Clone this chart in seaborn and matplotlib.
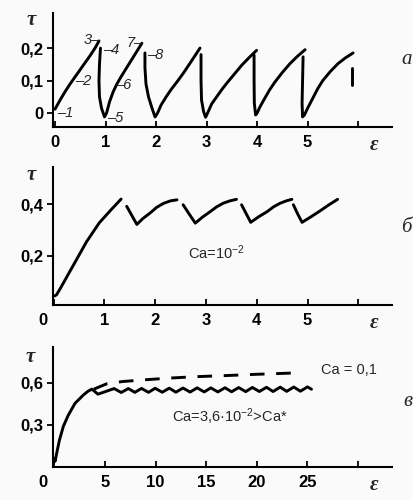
import matplotlib
matplotlib.use("Agg")
import matplotlib.pyplot as plt
import matplotlib.transforms as mtransforms
import pandas as pd
import seaborn as sns

# ---------------- data: panel a (sawtooth) ----------------
a_rise1_x = [0.0, 0.1, 0.2, 0.3, 0.4, 0.5, 0.6, 0.7, 0.8, 0.87]
a_rise1_y = [0.012, 0.04, 0.066, 0.09, 0.112, 0.134, 0.156, 0.178, 0.202, 0.222]
a_cyc2_x = [0.9, 0.88, 0.87, 0.88, 0.92, 0.98, 1.02, 1.08, 1.15, 1.22, 1.3, 1.4, 1.5, 1.6, 1.72]
a_cyc2_y = [0.2, 0.15, 0.1, 0.05, 0.015, -0.012, 0.0, 0.035, 0.065, 0.088, 0.11, 0.135, 0.16, 0.185, 0.215]
a_cyc3_x = [1.78, 1.78, 1.8, 1.85, 1.92, 1.98, 2.03, 2.1, 2.2, 2.3, 2.41, 2.55, 2.7, 2.87]
a_cyc3_y = [0.185, 0.14, 0.09, 0.05, 0.015, -0.012, 0.0, 0.025, 0.05, 0.073, 0.095, 0.125, 0.16, 0.2]
a_cyc4_x = [2.89, 2.89, 2.9, 2.94, 2.98, 3.02, 3.1, 3.2, 3.3, 3.4, 3.55, 3.7, 3.85, 3.99]
a_cyc4_y = [0.18, 0.1, 0.04, 0.005, -0.013, 0.0, 0.028, 0.05, 0.072, 0.092, 0.12, 0.148, 0.172, 0.193]
a_cyc5_x = [3.94, 3.94, 3.945, 3.97, 4.0, 4.06, 4.15, 4.25, 4.35, 4.5, 4.65, 4.8, 4.95]
a_cyc5_y = [0.178, 0.1, 0.03, -0.006, 0.0, 0.02, 0.045, 0.072, 0.095, 0.125, 0.152, 0.175, 0.195]
a_cyc6_x = [4.91, 4.9, 4.89, 4.9, 4.94, 5.0, 5.1, 5.2, 5.3, 5.45, 5.6, 5.75, 5.9]
a_cyc6_y = [0.173, 0.1, 0.03, -0.012, -0.005, 0.015, 0.045, 0.075, 0.1, 0.128, 0.152, 0.17, 0.185]
a_last_x = [5.88, 5.88]
a_last_y = [0.14, 0.086]

a_marks = ["\u20131", "\u20132", "3\u2013", "\u20134", "\u20135", "\u20136", "7\u2013", "\u20138"]
a_marks_x = [0.05, 0.39, 0.88, 0.95, 1.03, 1.19, 1.74, 1.82]
a_marks_y = [0.0, 0.1, 0.225, 0.195, -0.016, 0.086, 0.216, 0.178]
a_marks_ha = ["left", "left", "right", "left", "left", "left", "right", "left"]

a_xticks = [0, 1, 2, 3, 4, 5, 6]
a_xticklabels = ["0", "1", "2", "3", "4", "5", ""]
a_yticks = [0, 0.1, 0.2]
a_yticklabels = ["0", "0,1", "0,2"]

# ---------------- data: panel б ----------------
b_rise_x = [0.02, 0.06, 0.15, 0.25, 0.45, 0.65, 0.9, 1.13, 1.33]
b_rise_y = [0.045, 0.05, 0.08, 0.115, 0.185, 0.255, 0.328, 0.378, 0.42]
b_s1_x = [1.44, 1.54, 1.64, 1.76, 1.9, 2.03, 2.16, 2.3, 2.43]
b_s1_y = [0.392, 0.357, 0.322, 0.345, 0.366, 0.388, 0.403, 0.413, 0.417]
b_s2_x = [2.55, 2.67, 2.79, 2.93, 3.08, 3.21, 3.34, 3.47, 3.6]
b_s2_y = [0.398, 0.362, 0.327, 0.35, 0.371, 0.39, 0.404, 0.413, 0.419]
b_s3_x = [3.7, 3.79, 3.88, 4.04, 4.2, 4.33, 4.46, 4.58, 4.69]
b_s3_y = [0.398, 0.364, 0.33, 0.352, 0.371, 0.39, 0.404, 0.413, 0.419]
b_s4_x = [4.72, 4.8, 4.89, 5.07, 5.25, 5.42, 5.59]
b_s4_y = [0.398, 0.364, 0.33, 0.352, 0.375, 0.398, 0.419]

b_xticks = [0, 1, 2, 3, 4, 5, 6]
b_xticklabels = ["0", "1", "2", "3", "4", "5", ""]
b_yticks = [0.2, 0.4]
b_yticklabels = ["0,2", "0,4"]

# ---------------- data: panel в ----------------
c_solid_x = [0.0, 0.06, 0.23, 0.49, 0.88, 1.37, 2.04, 2.86, 3.3, 3.7,
             4.3, 5.9, 6.6, 7.3, 7.95, 8.6, 9.3, 9.95, 10.65, 11.35, 12.0,
             12.7, 13.4, 14.1, 14.8, 15.45, 16.15, 16.85, 17.5, 18.2, 18.9,
             19.55, 20.25, 20.95, 21.6, 22.3, 22.95, 23.65, 24.3, 25.0, 25.4]
c_solid_y = [0.06, 0.04, 0.1, 0.19, 0.29, 0.37, 0.455, 0.514, 0.54, 0.556,
             0.52, 0.56, 0.532, 0.56, 0.533, 0.561, 0.533, 0.562, 0.534, 0.563, 0.534,
             0.564, 0.535, 0.565, 0.536, 0.565, 0.536, 0.566, 0.537, 0.567, 0.538,
             0.568, 0.539, 0.569, 0.539, 0.57, 0.54, 0.571, 0.541, 0.572, 0.555]
c_dash_x = [3.9, 5.2, 6.7, 8.8, 11.4, 14.0, 17.0, 20.0, 24.0]
c_dash_y = [0.556, 0.595, 0.61, 0.622, 0.635, 0.645, 0.653, 0.662, 0.672]

c_xticks = [0, 5, 10, 15, 20, 25, 30]
c_xticklabels = ["0", "5", "10", "15", "20", "25", ""]
c_yticks = [0.3, 0.6]
c_yticklabels = ["0,3", "0,6"]


def seg_frame(segments):
    rows = []
    for k, (xs, ys) in enumerate(segments):
        for i, (x, y) in enumerate(zip(xs, ys)):
            rows.append({"eps": x, "tau": y, "seg": k, "ord": i})
    return pd.DataFrame(rows)


sns.set_style("ticks")
plt.rcParams["font.family"] = ["Liberation Sans", "DejaVu Sans"]
plt.rcParams["mathtext.fontset"] = "custom"
plt.rcParams["mathtext.rm"] = "Liberation Sans"
plt.rcParams["mathtext.it"] = "Liberation Sans:italic"

W, H = 413, 500
fig = plt.figure(figsize=(W / 100, H / 100), dpi=100)
fig.patch.set_facecolor("#fafafa")

LW = 2.1
TICKFS = 12
serif = ["Liberation Serif", "DejaVu Serif"]


def make_axes(left_px, right_px, top_px, bottom_px):
    ax = fig.add_axes([left_px / W, 1 - bottom_px / H,
                       (right_px - left_px) / W, (bottom_px - top_px) / H])
    ax.set_facecolor("none")
    for s in ["top", "right"]:
        ax.spines[s].set_visible(False)
    for s in ["left", "bottom"]:
        ax.spines[s].set_linewidth(1.5)
        ax.spines[s].set_color("black")
    ax.tick_params(axis="y", direction="out", length=4, width=1.3,
                   labelsize=TICKFS, pad=3, colors="black")
    ax.tick_params(axis="x", direction="in", length=4, width=1.3,
                   labelsize=TICKFS, pad=6, colors="black")
    return ax


def finish(ax, xticks, xticklabels, yticks, yticklabels, tau_px, eps_px, shift_zero=0):
    ax.set_xticks(xticks)
    ax.set_xticklabels(xticklabels, fontweight="bold")
    ax.set_yticks(yticks)
    ax.set_yticklabels(yticklabels, fontweight="bold")
    ax.set_xlabel("")
    ax.set_ylabel("")
    if shift_zero:
        lab = ax.get_xticklabels()[0]
        lab.set_transform(lab.get_transform() +
                          mtransforms.ScaledTranslation(shift_zero / 100, 0, fig.dpi_scale_trans))
    fig.text(tau_px[0] / W, 1 - tau_px[1] / H, "\u03c4", family=serif, style="italic",
             fontweight="bold", fontsize=15, ha="center", va="center")
    fig.text(eps_px[0] / W, 1 - eps_px[1] / H, "\u03b5", family=serif, style="italic",
             fontweight="bold", fontsize=15, ha="center", va="center")
    for ln in ax.lines:
        ln.set_solid_joinstyle("round")
        ln.set_solid_capstyle("round")


# ---------------- panel a ----------------
axa = make_axes(53, 392, 13.3, 126.7)
dfa = seg_frame([(a_rise1_x, a_rise1_y), (a_cyc2_x, a_cyc2_y), (a_cyc3_x, a_cyc3_y),
                 (a_cyc4_x, a_cyc4_y), (a_cyc5_x, a_cyc5_y), (a_cyc6_x, a_cyc6_y),
                 (a_last_x, a_last_y)])
sns.lineplot(data=dfa, x="eps", y="tau", units="seg", estimator=None, sort=False,
             color="black", lw=LW, ax=axa, legend=False)
for t, x, y, ha in zip(a_marks, a_marks_x, a_marks_y, a_marks_ha):
    axa.text(x, y, t, ha=ha, va="center", fontsize=10.5, style="italic")
axa.set_xlim(-0.04, 6.67)
axa.set_ylim(-0.042, 0.307)
finish(axa, a_xticks, a_xticklabels, a_yticks, a_yticklabels, (31, 20), (374, 145))

# ---------------- panel б ----------------
axb = make_axes(53, 392, 167, 305)
dfb = seg_frame([(b_rise_x, b_rise_y), (b_s1_x, b_s1_y), (b_s2_x, b_s2_y),
                 (b_s3_x, b_s3_y), (b_s4_x, b_s4_y)])
sns.lineplot(data=dfb, x="eps", y="tau", units="seg", estimator=None, sort=False,
             color="black", lw=LW, ax=axb, legend=False)
axb.text(2.65, 0.212, "Ca=10$^{-2}$", ha="left", va="center", fontsize=10.5)
axb.set_xlim(-0.01, 6.66)
axb.set_ylim(0.0104, 0.544)
finish(axb, b_xticks, b_xticklabels, b_yticks, b_yticklabels, (31, 175), (374, 323), shift_zero=-11)

# ---------------- panel в ----------------
axc = make_axes(53, 392, 346.7, 466.7)
dfc1 = seg_frame([(c_solid_x, c_solid_y)])
dfc2 = seg_frame([(c_dash_x, c_dash_y)])
sns.lineplot(data=dfc1, x="eps", y="tau", estimator=None, sort=False,
             color="black", lw=LW, ax=axc, legend=False)
sns.lineplot(data=dfc2, x="eps", y="tau", estimator=None, sort=False,
             color="black", lw=LW, ax=axc, legend=False, dashes=False)
axc.lines[-1].set_dashes((5, 4))
axc.text(26.3, 0.69, "Ca = 0,1", ha="left", va="center", fontsize=10.5, clip_on=False)
axc.text(11.6, 0.357, "Ca=3,6\u00b710$^{-2}$>Ca*", ha="left", va="center", fontsize=10.5)
axc.set_xlim(-0.14, 33.35)
axc.set_ylim(0.002, 0.859)
finish(axc, c_xticks, c_xticklabels, c_yticks, c_yticklabels, (30, 357), (374, 485), shift_zero=-11)

# panel letters
for txt, (px, py) in zip(["a", "\u0431", "\u0432"], [(407, 60), (406, 228), (408, 402)]):
    fig.text(px / W, 1 - py / H, txt, family=serif, style="italic", fontsize=15,
             ha="center", va="center")

fig.savefig("out.png", dpi=100, facecolor=fig.get_facecolor())
